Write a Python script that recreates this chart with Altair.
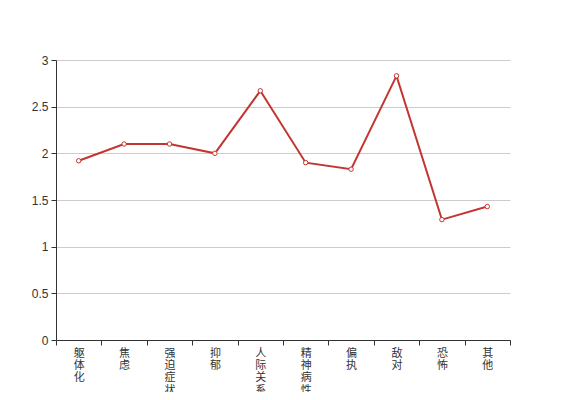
import altair as alt
import pandas as pd

categories = ["躯体化", "焦虑", "强迫症状", "抑郁", "人际关系敏感", "精神病性", "偏执", "敌对", "恐怖", "其他"]
values = [1.92, 2.10, 2.10, 2.00, 2.67, 1.90, 1.83, 2.83, 1.29, 1.43]

df = pd.DataFrame({"cat": categories, "val": values})

font = "Noto Sans CJK SC"
numfont = "Liberation Sans"

x = alt.X("cat:N", sort=categories, title=None,
          scale=alt.Scale(type="band", paddingInner=0, paddingOuter=0),
          axis=alt.Axis(labelAngle=0, tickBand="extent", labelExpr="split(datum.label, '')",
                        labelFont=font, labelFontSize=11, labelColor="#333", labelLineHeight=12.4,
                        labelPadding=2, labelBaseline="top",
                        domainColor="#333", tickColor="#333", tickSize=5, grid=False))
y = alt.Y("val:Q", title=None,
          scale=alt.Scale(domain=[0, 3], nice=False),
          axis=alt.Axis(values=[0, 0.5, 1, 1.5, 2, 2.5, 3], format="~g",
                        labelFont=numfont, labelFontSize=12, labelColor="#333",
                        domainColor="#333", tickColor="#333", tickSize=5,
                        gridColor="#ccc", labelPadding=3))

line = alt.Chart(df).mark_line(color="#c23531", strokeWidth=2).encode(x=x, y=y)
pts = alt.Chart(df).mark_point(shape="circle", size=20, filled=True, fill="white",
                               stroke="#c23531", strokeWidth=1, opacity=1).encode(x=x, y=y)

chart = (line + pts).properties(
    width=454, height=280,
    autosize=alt.AutoSizeParams(type="none"),
    padding={"left": 48, "top": 52, "right": 49, "bottom": 52},
    background="white",
).configure_view(stroke=None)

chart.save("out.html", embed_options={"renderer": "svg", "actions": False})
